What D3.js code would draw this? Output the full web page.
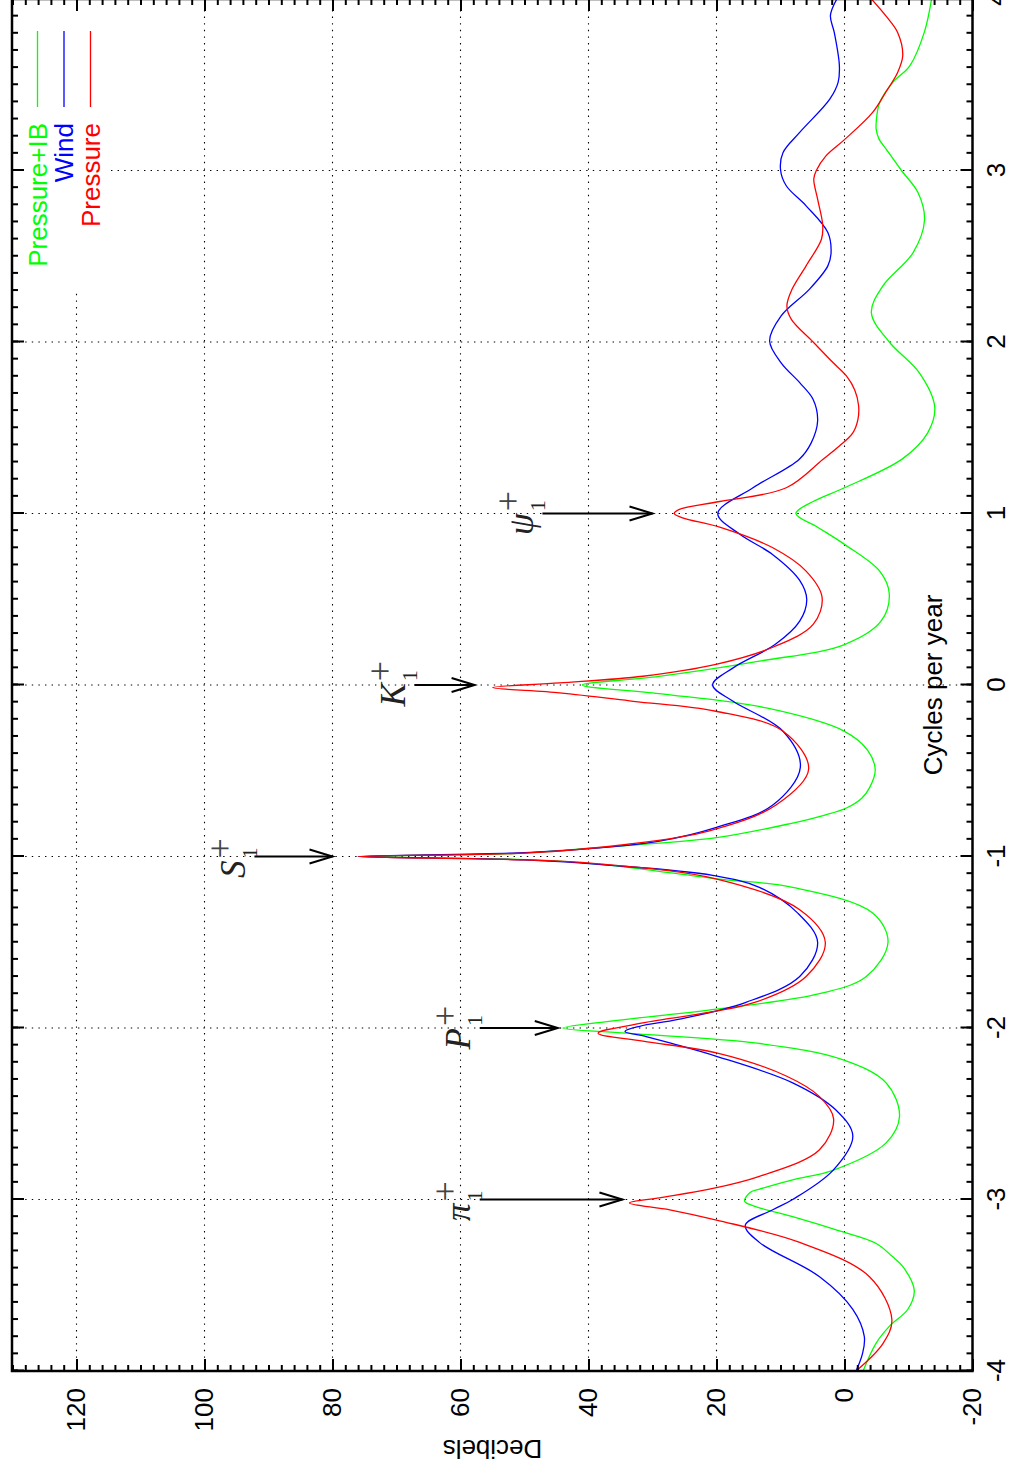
<!DOCTYPE html>
<html>
<head>
<meta charset="utf-8">
<script src="https://cdn.jsdelivr.net/npm/d3@7"></script>
<style>
body{margin:0;background:#fff}
svg{display:block}
</style>
</head>
<body>
<svg id="chart" width="1010" height="1477"></svg>
<script>
// spectra, [cycles per year, decibels]
const pressureIB = [[-4.00,-2.9],[-3.84,-4.9],[-3.74,-7.0],[-3.64,-9.9],[-3.53,-10.9],[-3.39,-9.1],[-3.33,-7.4],[-3.255,-4.9],[-3.177,1.3],[-3.10,8.1],[-3.04,14.0],[-3.01,15.6],[-2.96,14.8],[-2.94,13.3],[-2.885,8.1],[-2.83,1.8],[-2.67,-6.5],[-2.515,-8.6],[-2.32,-6.5],[-2.185,0.3],[-2.09,13.3],[-2.03,34.1],[-2.0,44],[-1.95,34.1],[-1.89,20],[-1.80,3.9],[-1.70,-3.4],[-1.50,-6.8],[-1.33,-4.4],[-1.18,8.1],[-1.13,20],[-1.05,37],[-1.02,48],[-1.0,74],[-0.98,50],[-0.95,39.3],[-0.89,20],[-0.805,8.1],[-0.76,3.2],[-0.717,-0.3],[-0.66,-2.7],[-0.60,-3.9],[-0.494,-4.8],[-0.38,-3.6],[-0.27,0],[-0.134,12.2],[-0.05,29],[0,41],[0.05,29],[0.139,13.3],[0.236,0],[0.372,-5.7],[0.53,-7.0],[0.664,-5.5],[0.82,0],[0.92,4.2],[1.0,7.6],[1.07,4.9],[1.15,0],[1.32,-9.1],[1.47,-13.0],[1.62,-14.1],[1.82,-11.7],[2.0,-7.0],[2.17,-4.2],[2.327,-6.0],[2.52,-10.7],[2.71,-12.5],[2.87,-11.5],[3.0,-8.9],[3.125,-6.5],[3.183,-5.4],[3.241,-4.95],[3.319,-5.05],[3.397,-5.5],[3.514,-7.55],[3.61,-10.2],[3.81,-12.5],[4.0,-13.6]];
const wind = [[-4.0,-1.8],[-3.9,-2.8],[-3.80,-3.1],[-3.64,-1.3],[-3.45,3.9],[-3.25,13.3],[-3.15,15.5],[-3.06,11.2],[-3.0,8.1],[-2.83,1.8],[-2.63,-1.3],[-2.48,1.3],[-2.32,8.1],[-2.165,20],[-2.09,27],[-2.05,31],[-2.02,34.3],[-1.99,32],[-1.95,26],[-1.85,15.4],[-1.70,7.0],[-1.50,4.2],[-1.33,7.3],[-1.18,13.3],[-1.11,20.6],[-1.05,37],[-1.02,50],[-1.0,76],[-0.98,52],[-0.96,41.9],[-0.91,28.9],[-0.83,20],[-0.70,11.2],[-0.48,6.9],[-0.27,9.6],[-0.095,17.4],[0,20.6],[0.10,17.4],[0.24,10.7],[0.372,7.0],[0.50,5.9],[0.61,7.0],[0.76,11.2],[0.88,16.4],[1.0,19.8],[1.15,14.3],[1.315,7.1],[1.412,5.2],[1.539,4.2],[1.665,4.9],[1.763,7.0],[1.879,9.9],[2.006,11.7],[2.152,9.9],[2.307,5.5],[2.444,2.6],[2.521,2.1],[2.638,2.6],[2.794,6.0],[2.911,9.1],[3.006,10.0],[3.105,9.6],[3.222,7.0],[3.416,2.3],[3.514,1.0],[3.611,0.8],[3.805,1.6],[3.903,2.2],[4.0,1.2]];
const pressure = [[-4.0,-1.8],[-3.84,-6.0],[-3.70,-7.4],[-3.45,-3.9],[-3.25,7.0],[-3.12,20],[-3.06,27.3],[-3.02,33.6],[-2.99,28.9],[-2.94,21.1],[-2.865,13.3],[-2.71,3.9],[-2.53,1.7],[-2.40,3.9],[-2.28,9.1],[-2.145,20],[-2.077,31.5],[-2.03,38.5],[-1.97,31.5],[-1.854,14.3],[-1.70,6.0],[-1.50,3.0],[-1.31,7.0],[-1.13,20.1],[-1.04,39.3],[-1.02,50],[-1.0,76],[-0.98,50],[-0.93,34.1],[-0.85,21.1],[-0.70,10.7],[-0.49,5.6],[-0.27,9.6],[-0.153,20.1],[-0.095,33],[-0.046,44.5],[-0.015,55],[0.012,44.5],[0.051,31.5],[0.12,20.1],[0.22,11.2],[0.353,4.9],[0.51,3.5],[0.664,6.0],[0.80,11.2],[0.92,19.5],[0.975,25.3],[1.0,26.6],[1.024,25.8],[1.07,19.5],[1.15,9.1],[1.315,3.4],[1.393,0.8],[1.47,-1.3],[1.549,-2.1],[1.63,-2.2],[1.72,-1.6],[1.802,-0.3],[1.88,1.8],[2.0,4.9],[2.132,8.3],[2.21,9.0],[2.307,8.2],[2.444,6.0],[2.599,3.6],[2.68,3.4],[2.833,4.2],[2.95,4.8],[3.0,4.4],[3.085,2.9],[3.18,0],[3.339,-4.4],[3.46,-6.5],[3.572,-8.3],[3.67,-9.1],[3.805,-8.3],[3.90,-6.5],[4.0,-4.2]];

const seriesNames = ['Pressure+IB','Wind','Pressure'];
const seriesColors = ['#00ff00','#0000ff','#ff0000'];
const seriesData = [pressureIB, wind, pressure];

const xTicks = [-4,-3,-2,-1,0,1,2,3,4];
const yTicks = [-20,0,20,40,60,80,100,120];

// tidal lines: frequency, arrow from/to (dB)
const lineCycles = [-3,-2,-1,0,1];
const lineSymbols = ['π','P','S','K','ψ'];
const arrowFrom = [57,57,92.2,67.2,47.2];
const arrowTo = [34.7,44.8,80,57.8,30];

const svg = d3.select('#chart');
svg.append('rect').attr('width',1010).attr('height',1477).attr('fill','#fff');

// the plot is drawn landscape and turned a quarter turn
const W = 1372, H = 960.5;
const g = svg.append('g').attr('transform','translate(12,1371) rotate(-90)');
const x = d3.scaleLinear().domain([-4,4]).range([0,W]);
const y = d3.scaleLinear().domain([-20,130]).range([H,0.5]);
const font = '"Liberation Sans", Arial, Helvetica, sans-serif';

// grid
const grid = g.append('g').attr('stroke','#000').attr('stroke-width',1.1).attr('stroke-dasharray','1.4,5.2');
grid.selectAll('.gx').data(xTicks.filter(d=>d>-4&&d<4)).join('line').attr('class','gx')
  .attr('x1',d=>x(d)).attr('x2',d=>x(d)).attr('y1',0).attr('y2',H);
grid.selectAll('.gy').data(yTicks.filter(d=>d>-20)).join('line').attr('class','gy')
  .attr('x1',0).attr('x2',W).attr('y1',d=>y(d)).attr('y2',d=>y(d));

// key box (opaque)
g.append('rect').attr('x',1081).attr('y',0).attr('width',W-1081).attr('height',95).attr('fill','#fff');

// curves
g.append('clipPath').attr('id','clip').append('rect').attr('width',W).attr('height',H);
const line = d3.line().x(d=>x(d[0])).y(d=>y(d[1])).curve(d3.curveCatmullRom.alpha(0.5));
g.append('g').attr('clip-path','url(#clip)')
  .selectAll('path').data(seriesData).join('path')
  .attr('d',line).attr('fill','none')
  .attr('stroke',(d,i)=>seriesColors[i]).attr('stroke-width',1.3);

// axes, ticks inward on all sides
function styleAxis(sel){
  sel.select('.domain').remove();
  sel.selectAll('line').attr('stroke-width',2);
  sel.attr('font-family',font).attr('font-size',26);
}
const minorX = d3.range(-40,41).map(d=>d/10);
const minorY = d3.range(-20,131,2);
g.append('g').attr('transform',`translate(0,${H})`)
  .call(d3.axisBottom(x).tickValues(minorX).tickSize(-6).tickFormat('')).call(styleAxis);
g.append('g').attr('transform',`translate(0,${H})`)
  .call(d3.axisBottom(x).tickValues(xTicks).tickSize(-12).tickPadding(14).tickFormat(d=>String(d))).call(styleAxis);
g.append('g').call(d3.axisTop(x).tickValues(minorX).tickSize(-6).tickFormat('')).call(styleAxis);
g.append('g').call(d3.axisTop(x).tickValues(xTicks).tickSize(-12).tickFormat('')).call(styleAxis);
g.append('g').call(d3.axisLeft(y).tickValues(minorY).tickSize(-6).tickFormat('')).call(styleAxis);
g.append('g').call(d3.axisLeft(y).tickValues(yTicks).tickSize(-12).tickPadding(17).tickFormat(d=>String(d))).call(styleAxis);
g.append('g').attr('transform',`translate(${W},0)`)
  .call(d3.axisRight(y).tickValues(minorY).tickSize(-6).tickFormat('')).call(styleAxis);
g.append('g').attr('transform',`translate(${W},0)`)
  .call(d3.axisRight(y).tickValues(yTicks).tickSize(-12).tickFormat('')).call(styleAxis);

g.append('rect').attr('width',W).attr('height',H)
  .attr('fill','none').attr('stroke','#000').attr('stroke-width',2.5);

// axis titles
g.append('text').attr('x',x(0)).attr('y',929.5).attr('text-anchor','middle')
  .attr('font-family',font).attr('font-size',26).text('Cycles per year');
g.append('text').attr('transform',`translate(-69,${(y(-20)+y(130))/2}) rotate(-90)`)
  .attr('text-anchor','middle').attr('font-family',font).attr('font-size',26).text('Decibels');

// key
const key = g.append('g').selectAll('g').data(seriesNames).join('g')
  .attr('transform',(d,i)=>`translate(0,${25.5+i*26.5})`);
key.append('text').attr('x',1248).attr('dy','0.35em').attr('text-anchor','end')
  .attr('font-family',font).attr('font-size',26)
  .attr('fill',(d,i)=>seriesColors[i]).text(d=>d);
key.append('line').attr('x1',1264).attr('x2',1340)
  .attr('stroke',(d,i)=>seriesColors[i]).attr('stroke-width',1.3);

// tidal line arrows and labels
const ann = g.append('g').selectAll('g').data(lineCycles).join('g');
ann.append('line').attr('x1',d=>x(d)).attr('x2',d=>x(d))
  .attr('y1',(d,i)=>y(arrowFrom[i])).attr('y2',(d,i)=>y(arrowTo[i]))
  .attr('stroke','#000').attr('stroke-width',2);
ann.append('path').attr('fill','none').attr('stroke','#000').attr('stroke-width',2)
  .attr('d',(d,i)=>{
    const tx = x(d), ty = y(arrowTo[i]);
    return `M${tx-7},${ty-23}L${tx},${ty}L${tx+7},${ty-23}`;
  });
const lab = ann.append('text')
  .attr('x',d=>x(d)-21.5).attr('y',(d,i)=>y(arrowFrom[i]+1.5))
  .attr('fill','#222').attr('font-family','"Liberation Serif", "DejaVu Serif", serif');
lab.append('tspan').attr('font-style','italic').attr('font-size',35).text((d,i)=>lineSymbols[i]);
lab.append('tspan').attr('font-size',22).attr('dx',2).attr('dy',12).text('1');
lab.append('tspan').attr('font-size',36).attr('fill','#444').attr('dx',-11).attr('dy',-25).text('+');
</script>
</body>
</html>
